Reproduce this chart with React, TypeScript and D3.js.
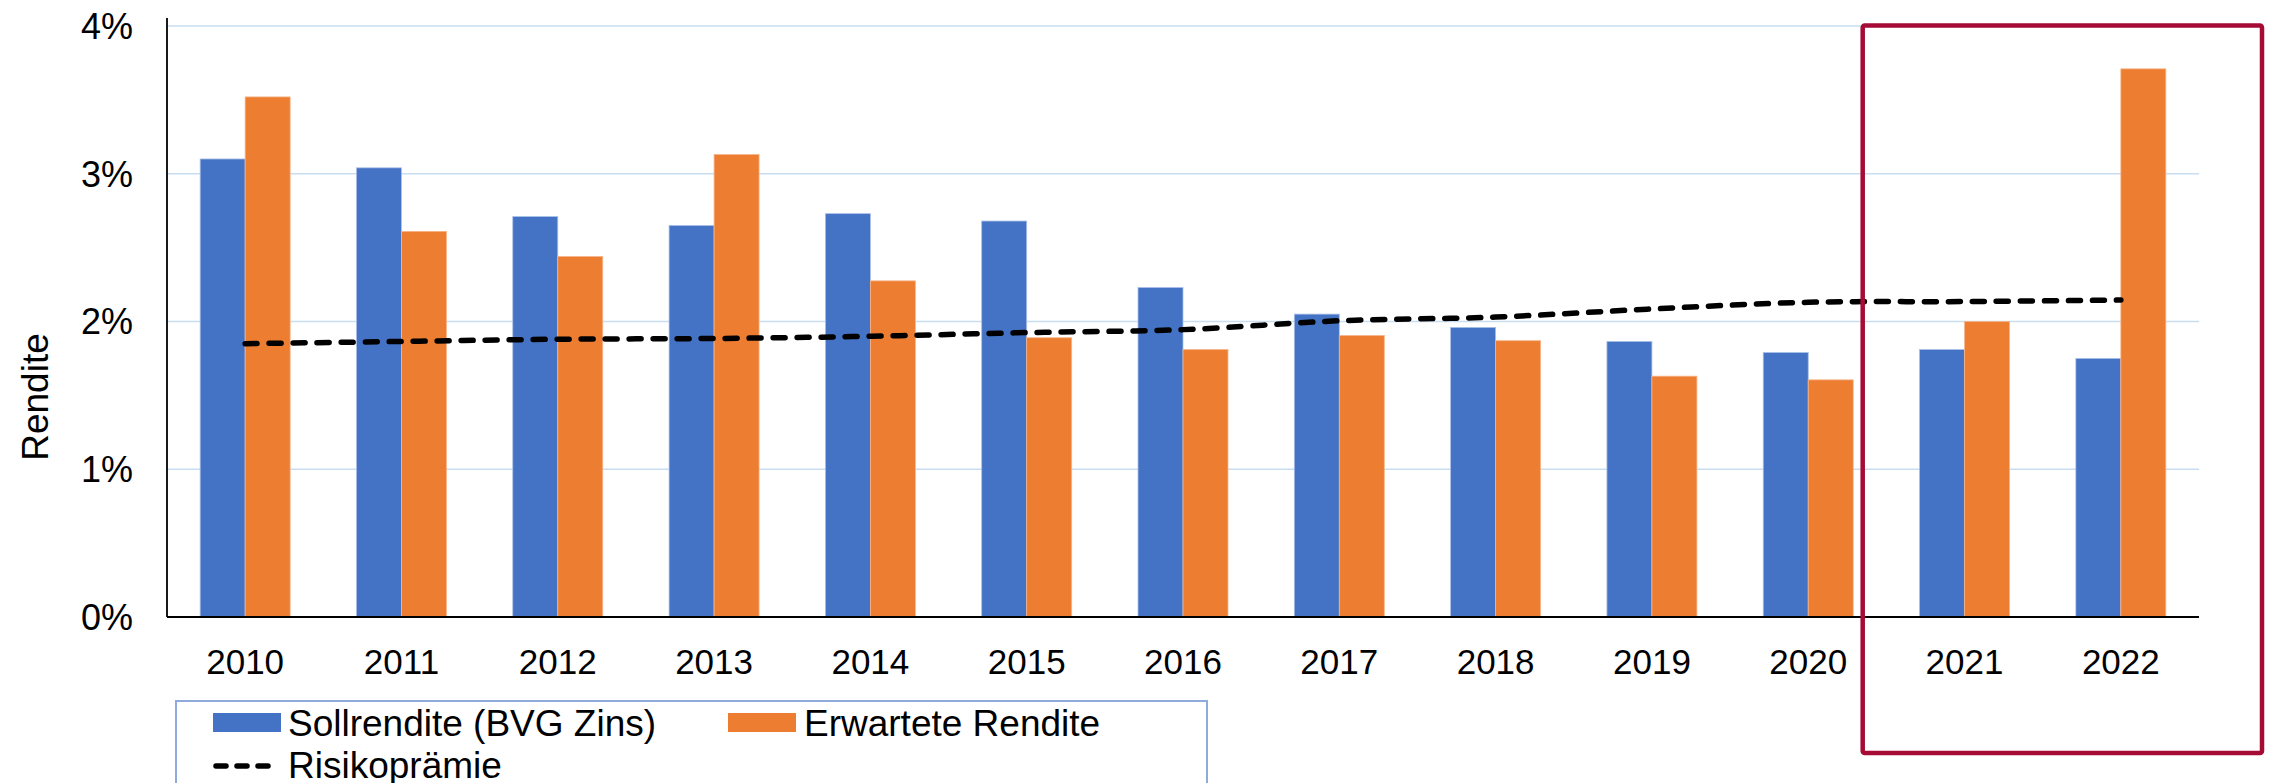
import React from "react";
import * as d3 from "d3";

const years = ["2010","2011","2012","2013","2014","2015","2016","2017","2018","2019","2020","2021","2022"];
const sollrendite = [3.10, 3.04, 2.71, 2.65, 2.73, 2.68, 2.23, 2.05, 1.96, 1.865, 1.79, 1.81, 1.75];
const erwartete = [3.52, 2.61, 2.44, 3.13, 2.275, 1.89, 1.81, 1.905, 1.87, 1.63, 1.605, 2.00, 3.71];
const risikopraemie = [1.85, 1.865, 1.88, 1.885, 1.90, 1.925, 1.945, 2.005, 2.03, 2.085, 2.13, 2.135, 2.145];
const yTicks = [0, 1, 2, 3, 4];
const seriesNames = ["Sollrendite (BVG Zins)", "Erwartete Rendite"];
const lineName = "Risikoprämie";

const W = 2272, H = 783;
const left = 167, right = 2199, top = 26, bottom = 617;
const BLUE = "#4472C4", ORANGE = "#ED7D31", GRID = "#C9DDF1", RED = "#A50B34";
const FONT = "'Liberation Sans', Arial, sans-serif";

export default function App() {
  const x0 = d3.scaleBand<string>().domain(years).range([left, right]).padding(0);
  const x1 = d3.scaleBand<string>().domain(seriesNames).range([0, x0.bandwidth()]).paddingInner(0).paddingOuter(0.737);
  const y = d3.scaleLinear().domain([0, 4]).range([bottom, top]);
  const center = (yr: string) => (x0(yr) as number) + x0.bandwidth() / 2;
  const line = d3.line<number>().x((_, i) => center(years[i])).y(d => y(d)).curve(d3.curveCatmullRom.alpha(0.5));
  const vals = [sollrendite, erwartete];
  const colors = [BLUE, ORANGE];

  return (
    <svg width={W} height={H} style={{ position: "absolute", left: 0, top: 0, background: "#fff" }} fontFamily={FONT}>
      <rect x={0} y={0} width={W} height={H} fill="#fff" />
      {yTicks.filter(t => t > 0).map(t => (
        <line key={t} x1={left} x2={right} y1={y(t)} y2={y(t)} stroke={GRID} strokeWidth={1.5} />
      ))}
      {yTicks.map(t => (
        <text key={t} x={133} y={y(t)} dy="0.36em" textAnchor="end" fontSize={36} fill="#000">{t}%</text>
      ))}
      <text transform={`translate(${48},${397}) rotate(-90)`} textAnchor="middle" fontSize={37} fill="#000">Rendite</text>
      {years.map((yr, i) => (
        <g key={yr}>
          {vals.map((v, s) => (
            <rect key={s}
              x={(x0(yr) as number) + (x1(seriesNames[s]) as number)}
              y={y(v[i])}
              width={x1.bandwidth()}
              height={y(0) - y(v[i])}
              fill={colors[s]}
              stroke={s === 0 ? "#A9C0E8" : "#F5B58A"}
              strokeWidth={0.8}
            />
          ))}
          <text x={center(yr)} y={674} textAnchor="middle" fontSize={35} fill="#000">{yr}</text>
        </g>
      ))}
      <line x1={left} x2={left} y1={top - 8} y2={bottom} stroke="#000" strokeWidth={1.8} />
      <line x1={left} x2={right} y1={bottom} y2={bottom} stroke="#000" strokeWidth={1.8} />
      <path d={line(risikopraemie) || ""} fill="none" stroke="#000" strokeWidth={5.5} strokeDasharray="12 12" strokeLinecap="round" />
      {/* highlight box */}
      <rect x={1862.7} y={25.5} width={2262 - 1862.7} height={753 - 25.5} fill="none" stroke={RED} strokeWidth={4.5} rx={2} />
      {/* legend */}
      <rect x={176} y={701} width={1207 - 176} height={120} fill="#fff" stroke="#8FAADC" strokeWidth={2} />
      <rect x={213} y={713} width={68} height={19} fill={BLUE} />
      <text x={288} y={723} dy="0.36em" fontSize={37} fill="#000">{seriesNames[0]}</text>
      <rect x={728} y={713} width={68} height={19} fill={ORANGE} />
      <text x={804} y={723} dy="0.36em" fontSize={37} fill="#000">{seriesNames[1]}</text>
      <line x1={216} x2={275} y1={766} y2={766} stroke="#000" strokeWidth={5.5} strokeDasharray="10 11" strokeLinecap="round" />
      <text x={288} y={765} dy="0.36em" fontSize={37} fill="#000">{lineName}</text>
    </svg>
  );
}
